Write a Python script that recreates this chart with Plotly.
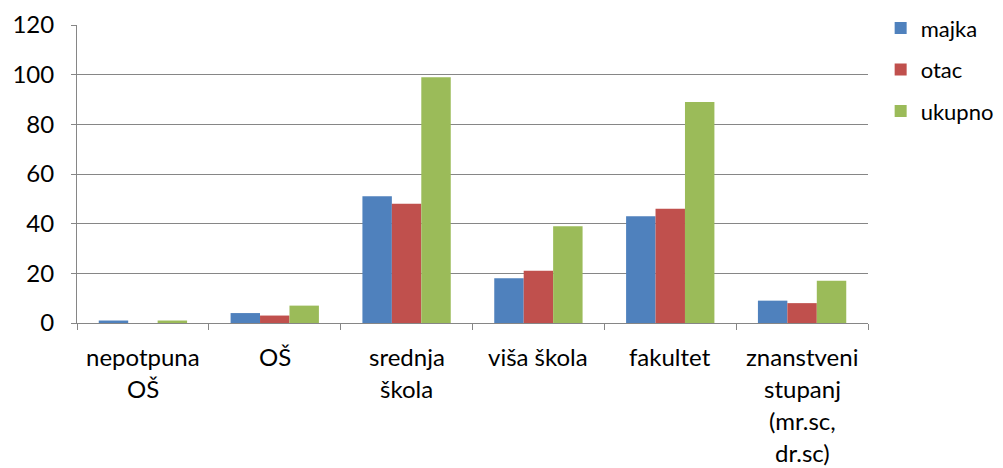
import plotly.graph_objects as go

categories = ["nepotpuna\nOŠ", "OŠ", "srednja\nškola", "viša škola", "fakultet",
              "znanstveni\nstupanj\n(mr.sc,\ndr.sc)"]
series_names = ["majka", "otac", "ukupno"]
majka = [1, 4, 51, 18, 43, 9]
otac = [0, 3, 48, 21, 46, 8]
ukupno = [1, 7, 99, 39, 89, 17]
y_ticks = [0, 20, 40, 60, 80, 100, 120]

colors = ["#4F81BD", "#C0504D", "#9BBB59"]
FONT = "Lato"
x_keys = [c.replace("\n", " ") for c in categories]

fig = go.Figure()
for name, vals, col in zip(series_names, [majka, otac, ukupno], colors):
    fig.add_trace(go.Bar(x=x_keys, y=vals, name=name, marker=dict(color=col, line=dict(width=0)),
                         legendgroup=name))

annotations = []
for key, cat in zip(x_keys, categories):
    for i, line in enumerate(cat.split("\n")):
        annotations.append(dict(x=key, xref="x", y=0, yref="paper", text=line,
                                showarrow=False, xanchor="center", yanchor="middle",
                                yshift=-33 - 32 * i,
                                font=dict(family=FONT, size=24, color="#000000")))

fig.update_layout(
    width=995, height=460,
    margin=dict(l=69, r=135, t=17, b=145, autoexpand=False),
    paper_bgcolor="white", plot_bgcolor="white",
    barmode="group", bargap=0.33, bargroupgap=0,
    font=dict(family=FONT, size=24, color="#000000"),
    legend=dict(x=1.016, y=1.06, xanchor="left", yanchor="top",
                font=dict(family=FONT, size=22), tracegroupgap=10,
                itemwidth=30),
    annotations=annotations,
    showlegend=True,
)
fig.update_xaxes(showticklabels=False, ticks="outside", ticklen=6, tickcolor="#868686",
                 tickson="boundaries", showline=True, linecolor="#868686", linewidth=1,
                 showgrid=False, zeroline=False)
fig.update_yaxes(range=[0, 120], tickvals=y_ticks, ticks="outside", ticklen=5,
                 tickcolor="#868686", showline=True, linecolor="#868686", linewidth=1,
                 showgrid=True, gridcolor="#868686", gridwidth=1, zeroline=False,
                 ticklabelstandoff=12,
                 tickfont=dict(family=FONT, size=24))
fig.write_html("out.html")
